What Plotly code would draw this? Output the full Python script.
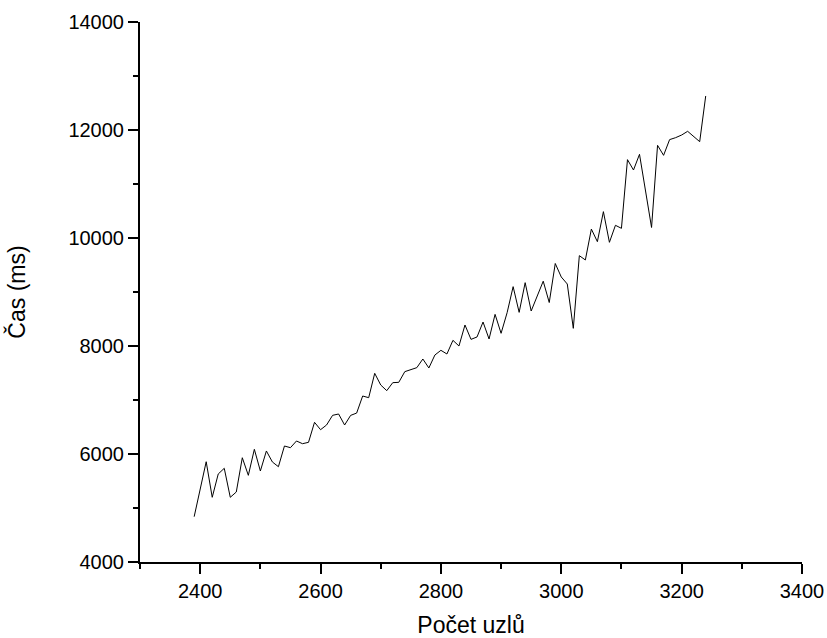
import plotly.graph_objects as go

nodes = [2390, 2400, 2410, 2420, 2430, 2440, 2450, 2460, 2470, 2480,
         2490, 2500, 2510, 2520, 2530, 2540, 2550, 2560, 2570, 2580,
         2590, 2600, 2610, 2620, 2630, 2640, 2650, 2660, 2670, 2680,
         2690, 2700, 2710, 2720, 2730, 2740, 2750, 2760, 2770, 2780,
         2790, 2800, 2810, 2820, 2830, 2840, 2850, 2860, 2870, 2880,
         2890, 2900, 2910, 2920, 2930, 2940, 2950, 2960, 2970, 2980,
         2990, 3000, 3010, 3020, 3030, 3040, 3050, 3060, 3070, 3080,
         3090, 3100, 3110, 3120, 3130, 3150, 3160, 3170, 3180, 3190,
         3200, 3210, 3220, 3230, 3240]

time_ms = [4839, 5333, 5857, 5198, 5630, 5735, 5198, 5296, 5931, 5605,
           6087, 5685, 6056, 5852, 5765, 6148, 6117, 6241, 6191, 6216,
           6587, 6450, 6537, 6716, 6741, 6537, 6715, 6758, 7074, 7043,
           7494, 7278, 7173, 7321, 7327, 7525, 7556, 7599, 7759, 7593,
           7833, 7920, 7852, 8105, 8000, 8389, 8123, 8167, 8444, 8130,
           8586, 8235, 8617, 9099, 8623, 9173, 8648, 8926, 9200, 8805,
           9528, 9278, 9148, 8327, 9673, 9593, 10165, 9932, 10488, 9920,
           10235, 10179, 11451, 11259, 11550, 10195, 11716, 11531, 11822, 11858,
           11907, 11976, 11876, 11784, 12630]

x_tick_vals = [2400, 2600, 2800, 3000, 3200, 3400]
y_tick_vals = [4000, 6000, 8000, 10000, 12000, 14000]

font_family = "Arial, Liberation Sans, sans-serif"

fig = go.Figure()
fig.add_trace(go.Scatter(x=nodes, y=time_ms, mode="lines",
                         line=dict(color="black", width=1), showlegend=False))

fig.update_layout(
    width=827, height=638,
    margin=dict(l=140, r=25, t=22, b=76),
    paper_bgcolor="white", plot_bgcolor="white",
    font=dict(family=font_family, color="black", size=20),
)
fig.update_xaxes(
    range=[2300, 3400], tickvals=x_tick_vals, tickformat="d", ticks="outside", ticklen=10, tickwidth=1.5,
    tickcolor="black", showline=True, linecolor="black", linewidth=2, showgrid=False,
    zeroline=False, tickfont=dict(size=20), automargin=False,
    minor=dict(dtick=100, tick0=2300, ticks="outside", ticklen=5, tickwidth=1.5, tickcolor="black", showgrid=False),
    title=dict(text="Počet uzlů", font=dict(size=23), standoff=18),
)
fig.update_yaxes(
    range=[4000, 14000], tickvals=y_tick_vals, tickformat="d", ticks="outside", ticklen=10, tickwidth=1.5,
    tickcolor="black", showline=True, linecolor="black", linewidth=2, showgrid=False,
    zeroline=False, tickfont=dict(size=20), automargin=False,
    minor=dict(dtick=1000, tick0=4000, ticks="outside", ticklen=5, tickwidth=1.5, tickcolor="black", showgrid=False),
    title=dict(text="Čas (ms)", font=dict(size=23), standoff=36),
)

fig.write_html("out.html")
